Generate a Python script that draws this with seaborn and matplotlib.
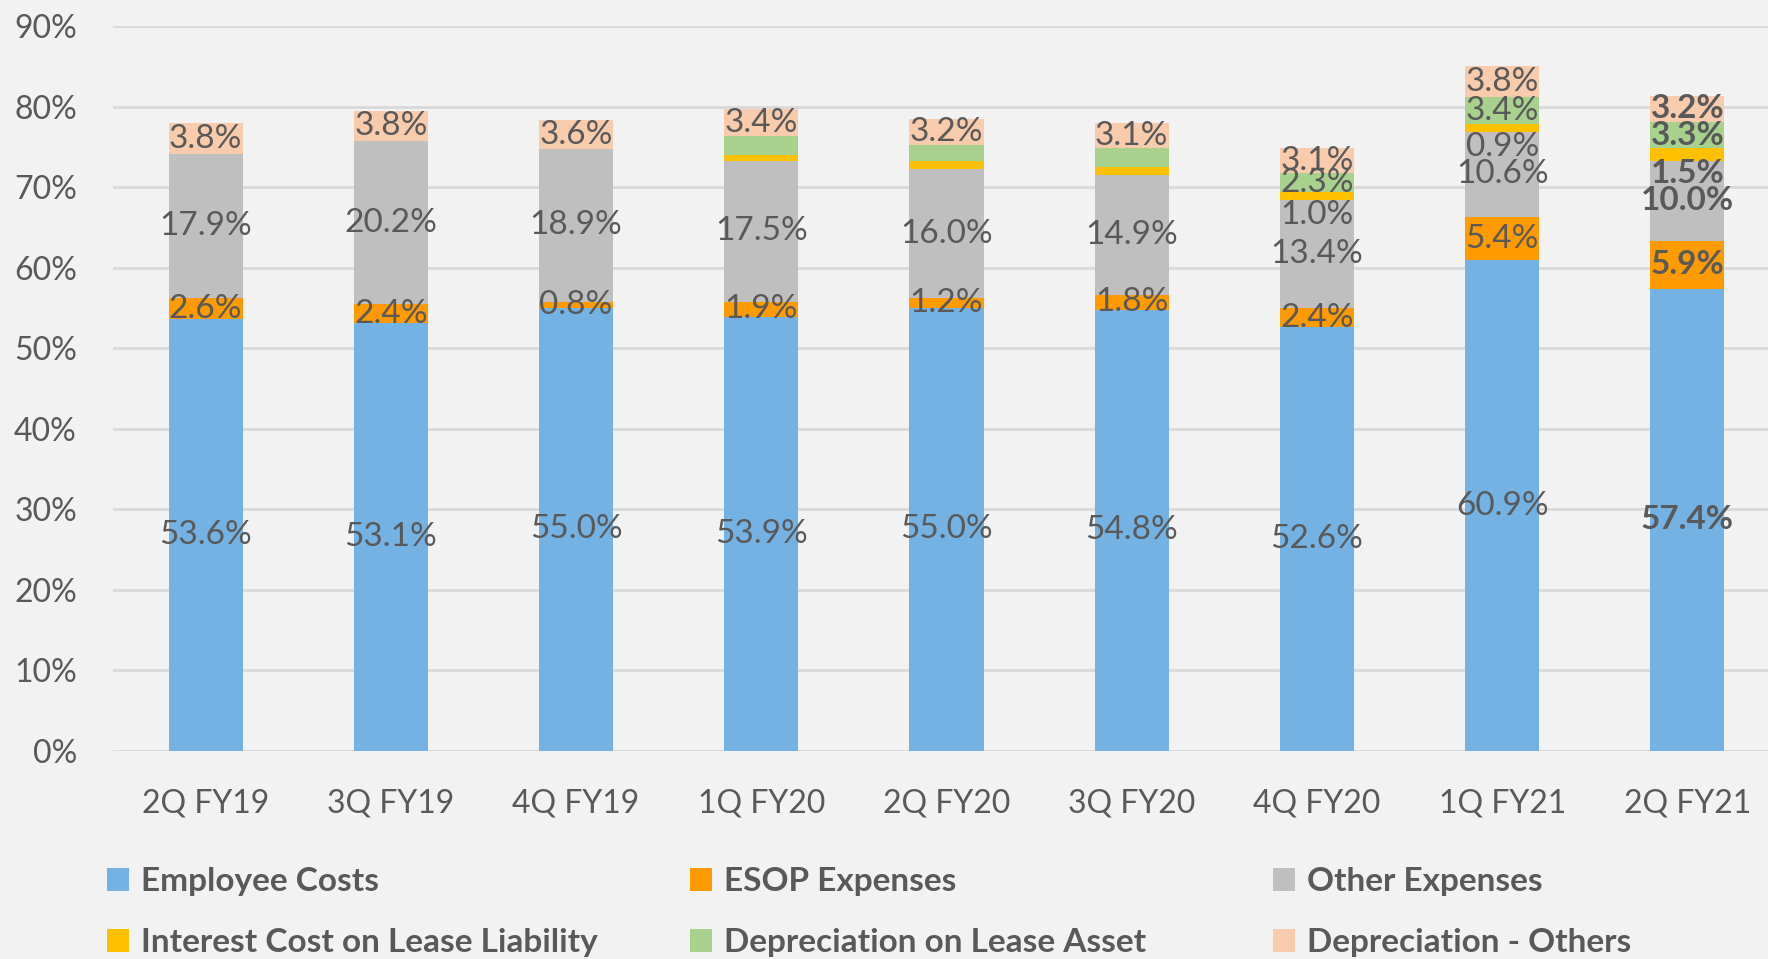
import matplotlib
matplotlib.use("Agg")
import matplotlib.pyplot as plt
from matplotlib.patches import Patch
import numpy as np
import pandas as pd
import seaborn as sns

# Quarterly cost structure as % of revenue
quarters = ["2Q FY19", "3Q FY19", "4Q FY19", "1Q FY20", "2Q FY20",
            "3Q FY20", "4Q FY20", "1Q FY21", "2Q FY21"]
employee_costs = [53.6, 53.1, 55.0, 53.9, 55.0, 54.8, 52.6, 60.9, 57.4]
esop_expenses = [2.6, 2.4, 0.8, 1.9, 1.2, 1.8, 2.4, 5.4, 5.9]
other_expenses = [17.9, 20.2, 18.9, 17.5, 16.0, 14.9, 13.4, 10.6, 10.0]
interest_lease = [0.0, 0.0, 0.0, 0.7, 1.0, 1.0, 1.0, 0.9, 1.5]
depreciation_lease = [0.0, 0.0, 0.0, 2.3, 2.0, 2.3, 2.3, 3.4, 3.3]
depreciation_others = [3.8, 3.8, 3.6, 3.4, 3.2, 3.1, 3.1, 3.8, 3.2]

series_names = ["Employee Costs", "ESOP Expenses", "Other Expenses",
                "Interest Cost on Lease Liability", "Depreciation on Lease Asset",
                "Depreciation - Others"]
series_values = [employee_costs, esop_expenses, other_expenses,
                 interest_lease, depreciation_lease, depreciation_others]
colors = ["#74B2E4", "#FF9A00", "#BFBFBF", "#FFC000", "#A9D18E", "#F8CBAD"]

# quarters where the lease items carry value labels
lease_labelled = ["4Q FY20", "1Q FY21", "2Q FY21"]
bold_quarter = "2Q FY21"

sns.set_theme(style="white")
plt.rcParams["font.family"] = ["Lato", "DejaVu Sans"]

BG = "#F2F2F2"
TXT = "#595959"

fig = plt.figure(figsize=(17.68, 9.59), dpi=100, facecolor=BG)
ax = fig.add_axes([113 / 1768, 208 / 959, (1768 - 113) / 1768, (751 - 26) / 959])
ax.set_facecolor(BG)

vals = np.array(series_values)
cum = np.cumsum(vals, axis=0)

# stacked bars: draw cumulative totals from the top series down
for i in range(len(series_names) - 1, -1, -1):
    df = pd.DataFrame({"quarter": quarters, "value": cum[i]})
    sns.barplot(data=df, x="quarter", y="value", order=quarters, color=colors[i],
                saturation=1, width=0.4, errorbar=None, linewidth=0, ax=ax, zorder=2)

ax.set_ylim(0, 90)
ax.set_xlim(-0.5, 8.5 - 12 / 185.25)
ax.set_yticks(np.arange(0, 91, 10))
ax.set_yticklabels([f"{v}%" for v in range(0, 91, 10)])
ax.yaxis.grid(True, color="#D9D9D9", linewidth=2, zorder=0)
ax.set_axisbelow(True)
for s in ax.spines.values():
    s.set_visible(False)
ax.tick_params(axis="y", length=0, pad=26, labelsize=23, labelcolor=TXT)
ax.tick_params(axis="x", length=0, pad=27, labelsize=23, labelcolor=TXT)
ax.set_xlabel("")
ax.set_ylabel("")

# value labels
for j, q in enumerate(quarters):
    weight = "bold" if q == bold_quarter else "normal"
    for i, name in enumerate(series_names):
        v = vals[i, j]
        if v <= 0:
            continue
        if i in (3, 4) and q not in lease_labelled:
            continue
        y = cum[i, j] - v / 2
        if i == 3:
            y -= 2.4
        ax.text(j, y, f"{v:.1f}%", ha="center", va="center", fontsize=24,
                color=TXT, fontweight=weight, zorder=5)

# legend: three columns of two rows
handles = [Patch(facecolor=c, edgecolor="none") for c in colors]
col_x = [94 / 1768, 677 / 1768, 1260 / 1768]
for k in range(3):
    leg = fig.legend(handles=[handles[k], handles[k + 3]],
                     labels=[series_names[k], series_names[k + 3]],
                     loc="upper left", bbox_to_anchor=(col_x[k], 1 - 854 / 959),
                     frameon=False, ncol=1, handlelength=0.66, handleheight=0.66,
                     handletextpad=0.35, labelspacing=0.95,
                     prop={"size": 24, "weight": "bold"}, borderaxespad=0)
    for t in leg.get_texts():
        t.set_color(TXT)

fig.savefig("out.png", dpi=100, facecolor=BG)
